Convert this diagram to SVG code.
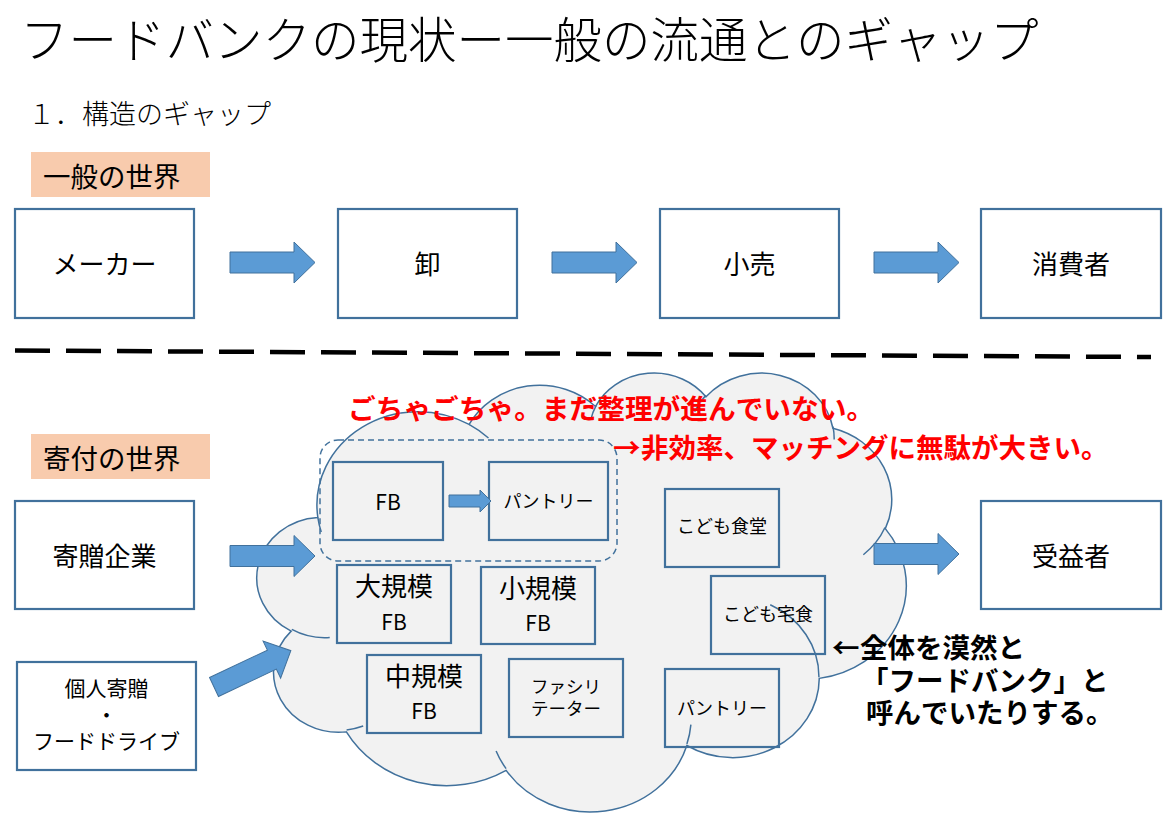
<svg xmlns="http://www.w3.org/2000/svg" width="1176" height="821" viewBox="0 0 1176 821">
<defs>
<style>
.t{font-family:"Noto Sans CJK JP","Noto Sans",sans-serif;fill:#000;dominant-baseline:central;text-anchor:middle;font-kerning:none}
.s{text-anchor:start}
.box{fill:#fff;stroke:#41719c;stroke-width:2.2}
.sbox{fill:none;stroke:#41719c;stroke-width:2.2}
.lbl{fill:#f8cbad}
.arr{fill:#5b9bd5;stroke:#41719c;stroke-width:1}
.red{fill:#ff0000;font-weight:700}
.blk{font-weight:700}
.cl{stroke:#41719c;stroke-width:1.5;vector-effect:non-scaling-stroke}
</style>
<linearGradient id="og" x1="0" x2="1" y1="0" y2="0">
<stop offset="0" stop-color="#e6925f"/>
<stop offset="0.6" stop-color="#f0b894"/>
<stop offset="1" stop-color="#f5d9c8"/>
</linearGradient>
<path id="ba" d="M0,-10.5 H64 V-20.5 L85,0 L64,20.5 V10.5 H0 Z"/>
</defs>
<rect width="1176" height="821" fill="#fff"/>

<g id="title">
<text class="t s" x="20" y="37" font-size="48.5" font-weight="300">フードバンクの現状ー一般の流通とのギャップ</text>
<line x1="0" y1="86" x2="1176" y2="86" stroke="url(#og)" stroke-width="2"/>
<text class="t s" x="28" y="112" font-size="27" font-weight="300">１．構造のギャップ</text>
</g>

<g id="label-general">
<rect class="lbl" x="31" y="152" width="179" height="45"/>
<text class="t s" x="43" y="175" font-size="27.5">一般の世界</text>
</g>
<g id="label-donation">
<rect class="lbl" x="31" y="434" width="179" height="45"/>
<text class="t s" x="43" y="457" font-size="27.5">寄付の世界</text>
</g>

<g id="node-maker"><rect class="box" x="15" y="209" width="179" height="109"/><text class="t" x="104.5" y="262" font-size="26">メーカー</text></g>
<g id="node-oroshi"><rect class="box" x="338" y="209" width="179" height="109"/><text class="t" x="427.5" y="262" font-size="26">卸</text></g>
<g id="node-kouri"><rect class="box" x="660" y="209" width="179" height="109"/><text class="t" x="749.5" y="262" font-size="26">小売</text></g>
<g id="node-shohisha"><rect class="box" x="981" y="209" width="180" height="109"/><text class="t" x="1071" y="262" font-size="26">消費者</text></g>

<line id="divider" x1="15" y1="350.5" x2="1151" y2="357" stroke="#000" stroke-width="4.5" stroke-dasharray="35 16"/>

<g id="cloud" transform="translate(259.5,371.6) scale(0.014965,0.010157)">
<path class="cl" fill="#f2f2f2" d="M3900,14370 A6753,9190 0 0 1 14005,5203 A5333,7267 0 0 1 22456,3432 A4365,5945 0 0 1 29833,2481 A4857,6595 0 0 1 38318,5576 A5333,7273 0 0 1 41819,15460 A6775,9220 0 0 1 37405,30203 A5785,7867 0 0 1 28556,36813 A6752,9215 0 0 1 16481,39264 A7720,10543 0 0 1 5806,35471 A4360,5918 0 0 1 2115,25549 A4345,5945 0 0 1 3900,14370 Z"/>
<path class="cl" fill="none" d="M4693,26177 A4345,5945 0 0 1 2160,25380 M6928,34899 A4360,5918 0 0 1 5820,35281 M16478,39090 A6752,9215 0 0 1 15810,37348 M28827,34751 A6752,9215 0 0 1 28560,36661 M34129,22954 A5785,7867 0 0 1 37381,30090 M41798,15354 A5333,7273 0 0 1 40350,18030 M38324,5426 A4857,6595 0 0 1 38400,6690 M29078,3952 A4857,6595 0 0 1 29820,2340 M22141,4720 A4365,5945 0 0 1 22500,3330 M14000,5192 A6753,9190 0 0 1 15301,6541 M4127,15789 A6753,9190 0 0 1 3900,14370"/>
</g>

<g id="group-fb-pantry">
<rect x="320" y="440" width="297" height="121" rx="18" fill="none" stroke="#41719c" stroke-width="1.5" stroke-dasharray="6 4"/>
</g>
<g id="node-fb"><rect class="sbox" x="333" y="462" width="110" height="78"/><text class="t" x="388" y="501" font-size="21">FB</text></g>
<g id="node-pantry1"><rect class="sbox" x="489" y="462" width="119" height="78"/><text class="t" x="548.5" y="500" font-size="18">パントリー</text></g>
<g id="node-large-fb"><rect class="sbox" x="337" y="565" width="114" height="78"/><text class="t" x="394" y="584" font-size="26">大規模</text><text class="t" x="394" y="621" font-size="21">FB</text></g>
<g id="node-small-fb"><rect class="sbox" x="481" y="567" width="114" height="77"/><text class="t" x="538" y="586" font-size="26">小規模</text><text class="t" x="538" y="622" font-size="21">FB</text></g>
<g id="node-mid-fb"><rect class="sbox" x="367" y="655" width="114" height="78"/><text class="t" x="424" y="674" font-size="26">中規模</text><text class="t" x="424" y="710" font-size="21">FB</text></g>
<g id="node-facilitator"><rect class="sbox" x="509" y="659" width="114" height="78"/><text class="t" x="566" y="685" font-size="17.5">ファシリ</text><text class="t" x="566" y="707" font-size="17.5">テーター</text></g>
<g id="node-kodomo-shokudo"><rect class="sbox" x="665" y="489" width="114" height="78"/><text class="t" x="722" y="525" font-size="18">こども食堂</text></g>
<g id="node-kodomo-takushoku"><rect class="sbox" x="711" y="576" width="114" height="78"/><text class="t" x="768" y="613" font-size="18">こども宅食</text></g>
<g id="node-pantry2"><rect class="sbox" x="665" y="669" width="114" height="78"/><text class="t" x="722" y="707" font-size="18">パントリー</text></g>

<g id="node-kizo"><rect class="box" x="15" y="501" width="179" height="108"/><text class="t" x="104.5" y="554" font-size="26">寄贈企業</text></g>
<g id="node-juekisha"><rect class="box" x="981" y="501" width="180" height="108"/><text class="t" x="1071" y="554" font-size="26">受益者</text></g>
<g id="node-kojin"><rect class="box" x="17" y="662" width="179" height="108"/>
<text class="t" x="106.5" y="687" font-size="21">個人寄贈</text>
<text class="t" x="106.5" y="714" font-size="21">・</text>
<text class="t" x="106.5" y="740" font-size="21">フードドライブ</text></g>

<g id="connectors">
<use href="#ba" class="arr" transform="translate(230,262.5)"/>
<use href="#ba" class="arr" transform="translate(552,262.5)"/>
<use href="#ba" class="arr" transform="translate(874,262.5)"/>
<use href="#ba" class="arr" transform="translate(230,556)"/>
<use href="#ba" class="arr" transform="translate(874,554)"/>
<use href="#ba" class="arr" transform="translate(214,687) rotate(-25.3)"/>
<path class="arr" d="M449,495 H480 V490 L491,501 L480,512 V507 H449 Z"/>
</g>

<g id="notes">
<text class="t s red" x="348" y="407" font-size="27.7">ごちゃごちゃ。まだ整理が進んでいない。</text>
<text class="t s red" y="446" font-size="27.5"><tspan x="613">→</tspan><tspan x="641">非効率、マッチングに無駄が大きい。</tspan></text>
<text class="t s blk" y="646" font-size="27.5"><tspan x="832">←</tspan><tspan x="860">全体を漠然と</tspan></text>
<text class="t s blk" x="861" y="679" font-size="27.5">「フードバンク」と</text>
<text class="t s blk" x="866" y="711" font-size="27.5">呼んでいたりする。</text>
</g>
</svg>
